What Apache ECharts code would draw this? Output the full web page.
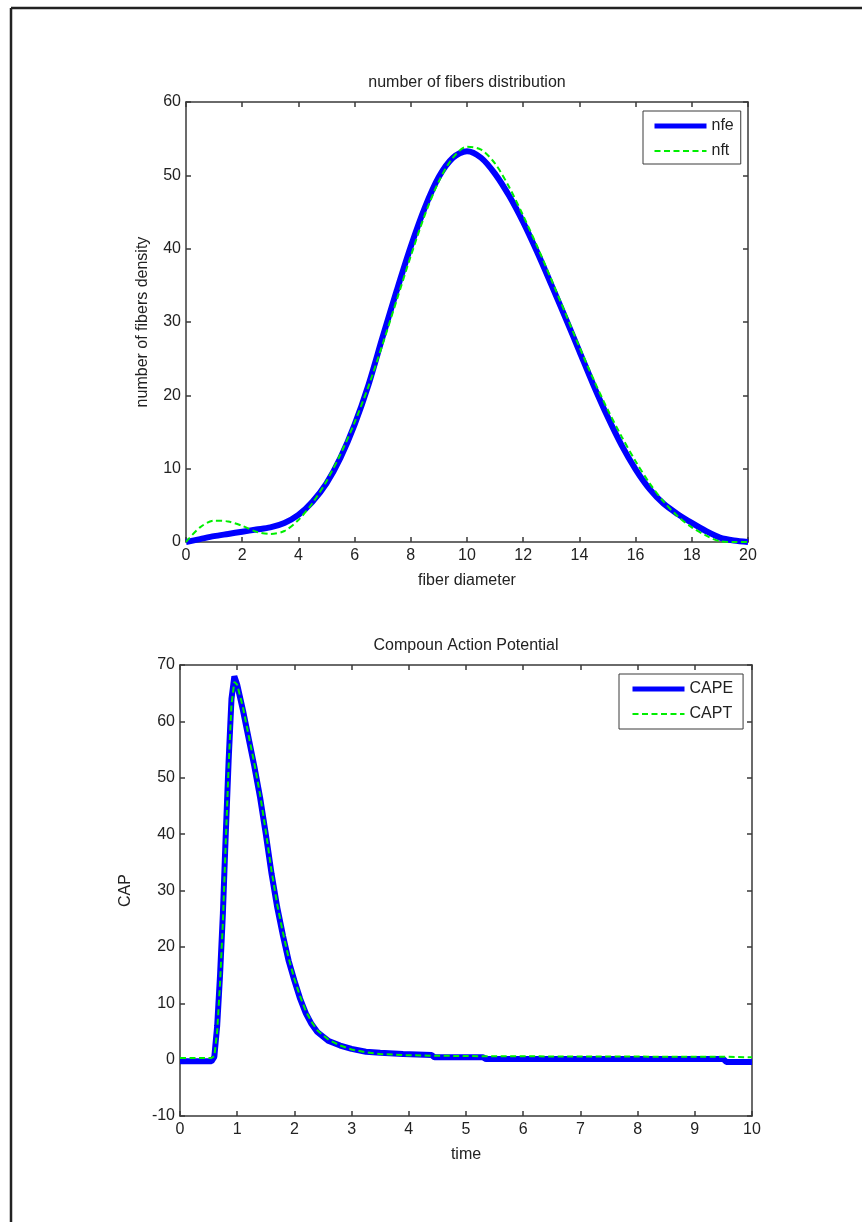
<!DOCTYPE html>
<html>
<head>
<meta charset="utf-8">
<script src="https://cdn.jsdelivr.net/npm/echarts@6/dist/echarts.min.js"></script>
<style>
	body { margin: 0; background: #fff; }
	#chart { width: 862px; height: 1222px; }
</style>
</head>
<body>
<div id="chart"></div>
<script>
// top plot: fiber diameter distribution
var diameter = [0, 0.5, 1, 1.5, 2, 2.5, 3, 3.5, 4, 4.5, 5, 5.5, 6, 6.5, 7, 7.5, 8, 8.5, 9, 9.5,
	10, 10.5, 11, 11.5, 12, 12.5, 13, 13.5, 14, 14.5, 15, 15.5, 16, 16.5, 17, 17.5, 18, 18.5, 19, 19.5, 20]
var nfe = [0, 0.4, 0.8, 1.1, 1.4, 1.7, 2.0, 2.6, 3.7, 5.5, 8.0, 11.5, 16.0, 21.5, 28.0, 34.3, 40.3, 45.6, 49.8, 52.4,
	53.3, 52.4, 50.2, 47.2, 43.6, 39.5, 35.1, 30.6, 26.0, 21.4, 17.1, 13.2, 9.9, 7.2, 5.2, 3.8, 2.6, 1.5, 0.6, 0.2, 0]
var nft = [0, 2.0, 2.9, 2.8, 2.2, 1.4, 1.1, 1.5, 3.0, 5.3, 8.3, 12.0, 16.3, 21.3, 27.0, 33.0, 39.0, 44.6, 49.2, 52.4,
	53.9, 53.5, 51.6, 48.4, 44.5, 40.3, 35.8, 31.2, 26.6, 22.2, 18.1, 14.4, 11.0, 8.0, 5.5, 3.5, 2.0, 0.9, 0.1, 0, 0]

// bottom plot: compound action potential
var time = [0, 0.55, 0.6, 0.65, 0.7, 0.75, 0.8, 0.85, 0.9, 0.95, 1.0, 1.1, 1.2, 1.3, 1.4, 1.5, 1.6, 1.7, 1.8, 1.9,
	2.0, 2.1, 2.2, 2.3, 2.4, 2.6, 2.8, 3.0, 3.25, 3.5, 3.9, 4.4, 4.45, 5.3, 5.35, 9.5, 9.55, 10]
var cape = [-0.3, -0.3, 0.5, 6, 15, 26, 40, 53, 64, 68, 66.5, 62, 57, 52, 46.5, 40, 33, 27, 22, 17.5,
	14, 10.8, 8.2, 6.3, 4.9, 3.3, 2.5, 1.9, 1.4, 1.2, 1.0, 0.8, 0.4, 0.4, 0.1, 0.1, -0.4, -0.4]
var capt = [0.3, 0.3, 0.6, 5, 13.5, 24.5, 38.5, 52, 63, 67, 66.5, 62.5, 57.5, 52.5, 47, 40.5, 33.5, 27.5, 22.5, 18,
	14.3, 11.2, 8.6, 6.7, 5.2, 3.5, 2.5, 1.8, 1.3, 1.0, 0.8, 0.7, 0.7, 0.6, 0.6, 0.5, 0.5, 0.4]

var fontFamily = '"Liberation Sans", Arial, sans-serif'
var frameColor = '#3a3a3a'
var textColor = '#222'
var blue = '#0000ff'
var green = '#00ee00'

function pairs(xs, ys) {
	return xs.map(function (x, i) { return [x, ys[i]] })
}

// one MATLAB-like box axis (ticks inside, optional labels)
function boxAxis(gridIndex, position, min, max, interval, withLabels, name, nameGap) {
	return {
		type: 'value',
		gridIndex: gridIndex,
		position: position,
		min: min,
		max: max,
		interval: interval,
		name: withLabels ? name : '',
		nameLocation: 'middle',
		nameGap: nameGap,
		nameTextStyle: { color: textColor, fontSize: 16, fontFamily: fontFamily },
		axisLine: { show: true, onZero: false, lineStyle: { color: frameColor, width: 1.5 } },
		axisTick: { show: true, inside: true, length: 5, lineStyle: { color: frameColor, width: 1.5 } },
		axisLabel: {
			show: withLabels,
			color: textColor,
			fontSize: 16,
			fontFamily: fontFamily,
			margin: (position === 'left' || position === 'right') ? 5 : 6
		},
		splitLine: { show: false }
	}
}

// legend entry: solid thick blue or dashed green, no marker
function legendItem(name, color, width, dashed) {
	return {
		name: name,
		itemStyle: { opacity: 0 },
		lineStyle: { color: color, width: width, type: dashed ? [6, 3.5] : 'solid', opacity: 1 }
	}
}

function legendBox(items, left, top, padding) {
	return {
		data: items,
		orient: 'vertical',
		left: left,
		top: top,
		padding: padding,
		itemWidth: 52,
		itemHeight: 14,
		itemGap: 9,
		backgroundColor: '#fff',
		borderColor: frameColor,
		borderWidth: 1,
		borderRadius: 0,
		textStyle: { color: textColor, fontSize: 16, fontFamily: fontFamily }
	}
}

function lineSeries(name, data, xi, color, width, dashed, smooth) {
	return {
		name: name,
		type: 'line',
		xAxisIndex: xi,
		yAxisIndex: xi,
		data: data,
		symbol: 'none',
		smooth: smooth,
		animation: false,
		lineStyle: { color: color, width: width, type: dashed ? [6, 3.5] : 'solid' },
		itemStyle: { color: color }
	}
}

var myChart = echarts.init(document.getElementById('chart'))
var option = {
	backgroundColor: '#fff',
	animation: false,
	textStyle: { fontFamily: fontFamily },
	graphic: [
		// outer frame, only left and top edges show in the picture
		{ type: 'line', shape: { x1: 11, y1: 8, x2: 11, y2: 1222 }, style: { stroke: '#222', lineWidth: 2.5 } },
		{ type: 'line', shape: { x1: 11, y1: 8, x2: 862, y2: 8 }, style: { stroke: '#222', lineWidth: 2.5 } },
		{ type: 'text', x: 467, y: 83, style: { text: 'number of fibers distribution', fill: textColor, font: '16px ' + fontFamily, align: 'center', verticalAlign: 'middle' } },
		{ type: 'text', x: 466, y: 646, style: { text: 'Compoun Action Potential', fill: textColor, font: '16px ' + fontFamily, align: 'center', verticalAlign: 'middle' } }
	],
	grid: [
		{ left: 186, top: 102, width: 562, height: 440 },
		{ left: 180, top: 665, width: 572, height: 451 }
	],
	legend: [
		legendBox([legendItem('nfe', blue, 5, false), legendItem('nft', green, 2, true)], 643, 111, [7, 7, 5, 9]),
		legendBox([legendItem('CAPE', blue, 5, false), legendItem('CAPT', green, 2, true)], 619, 674, [7, 10, 7, 11])
	],
	xAxis: [
		boxAxis(0, 'bottom', 0, 20, 2, true, 'fiber diameter', 31),
		boxAxis(0, 'top', 0, 20, 2, false),
		boxAxis(1, 'bottom', 0, 10, 1, true, 'time', 31),
		boxAxis(1, 'top', 0, 10, 1, false)
	],
	yAxis: [
		boxAxis(0, 'left', 0, 60, 10, true, 'number of fibers density', 35),
		boxAxis(0, 'right', 0, 60, 10, false),
		boxAxis(1, 'left', -10, 70, 10, true, 'CAP', 46),
		boxAxis(1, 'right', -10, 70, 10, false)
	],
	series: [
		lineSeries('nfe', pairs(diameter, nfe), 0, blue, 6, false, 0.3),
		lineSeries('nft', pairs(diameter, nft), 0, green, 2, true, 0.3),
		lineSeries('CAPE', pairs(time, cape), 2, blue, 6, false, false),
		lineSeries('CAPT', pairs(time, capt), 2, green, 2, true, false)
	]
}
myChart.setOption(option)
</script>
</body>
</html>
